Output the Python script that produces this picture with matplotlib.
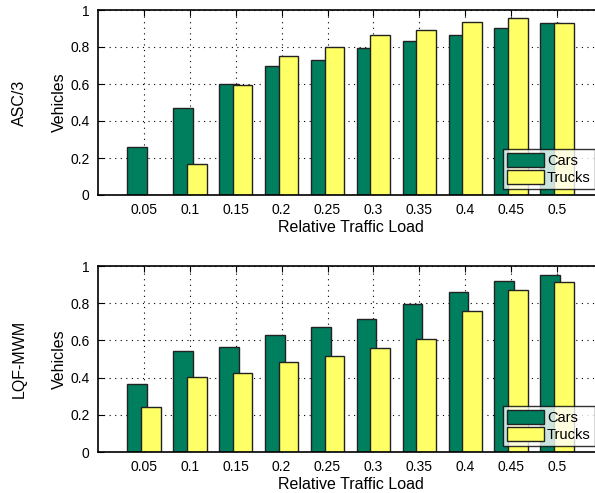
import numpy as np
import matplotlib.pyplot as plt
from matplotlib.patches import Patch

plt.rcParams['font.family'] = ['Liberation Sans', 'DejaVu Sans']

loads = ['0.05', '0.1', '0.15', '0.2', '0.25', '0.3', '0.35', '0.4', '0.45', '0.5']

asc_cars = [0.26, 0.47, 0.60, 0.697, 0.728, 0.793, 0.83, 0.866, 0.903, 0.93]
asc_trucks = [0.0, 0.167, 0.593, 0.75, 0.798, 0.865, 0.892, 0.937, 0.957, 0.93]

lqf_cars = [0.366, 0.544, 0.566, 0.627, 0.674, 0.717, 0.798, 0.858, 0.917, 0.951]
lqf_trucks = [0.242, 0.405, 0.424, 0.483, 0.517, 0.559, 0.608, 0.760, 0.872, 0.912]

GREEN = '#007f5f'
YELLOW = '#ffff66'
EDGE = '#222222'

W, H = 595, 493


def draw_panel(ax, cars, trucks, scheme):
    '''
    Grouped bar panel of cars and trucks per traffic load.
    '''
    x = np.arange(1, len(loads) + 1)
    ax.bar(x - 0.15, cars, width=0.43, color=GREEN,
           edgecolor=EDGE, linewidth=1.0, zorder=3)
    ax.bar(x + 0.15, trucks, width=0.43, color=YELLOW,
           edgecolor=EDGE, linewidth=1.0, zorder=4)
    ax.set_xlim(0, len(loads) + 1)
    ax.set_ylim(0, 1)
    ax.set_xticks(x)
    ax.set_xticklabels(loads)
    ax.set_yticks([0, 0.2, 0.4, 0.6, 0.8, 1])
    ax.set_yticklabels(['0', '0.2', '0.4', '0.6', '0.8', '1'])
    ax.grid(True, linestyle=(0, (1, 4)), color='black', linewidth=0.8, zorder=0)
    ax.set_axisbelow(True)
    ax.tick_params(axis='both', direction='in', length=4, labelsize=10,
                   top=True, right=True, colors='black', pad=6)
    for side in ax.spines.values():
        side.set_linewidth(1.2)
        side.set_zorder(5)
    ax.set_xlabel('Relative Traffic Load', fontsize=11.5, labelpad=2)
    ax.set_ylabel('Vehicles', fontsize=11.5, va='center')
    ax.yaxis.set_label_coords(-39 / 505, 0.5)
    handles = [Patch(facecolor=GREEN, edgecolor=EDGE, label='Cars'),
               Patch(facecolor=YELLOW, edgecolor=EDGE, label='Trucks')]
    leg = ax.legend(handles=handles, loc='lower left',
                    bbox_to_anchor=((503 - 98) / 505, 0.03),
                    fontsize=10.5, frameon=True, fancybox=False,
                    handlelength=2.5, handleheight=1.1, handletextpad=0.2,
                    borderpad=0.3, labelspacing=0.15, borderaxespad=0)
    leg.get_frame().set_edgecolor('black')
    leg.get_frame().set_linewidth(1.0)
    leg.set_zorder(10)
    pos = ax.get_position()
    ax.figure.text(19 / W, pos.y0 + pos.height / 2, scheme, rotation=90,
                   ha='center', va='center', fontsize=11.5)


fig = plt.figure(figsize=(W / 100, H / 100), dpi=100)
ax_top = fig.add_axes([98 / W, 1 - 195 / H, 505 / W, 185 / H])
ax_bot = fig.add_axes([98 / W, 1 - 452 / H, 505 / W, 186 / H])

draw_panel(ax_top, asc_cars, asc_trucks, 'ASC/3')
draw_panel(ax_bot, lqf_cars, lqf_trucks, 'LQF-MWM')

fig.savefig('out.png', dpi=100)
